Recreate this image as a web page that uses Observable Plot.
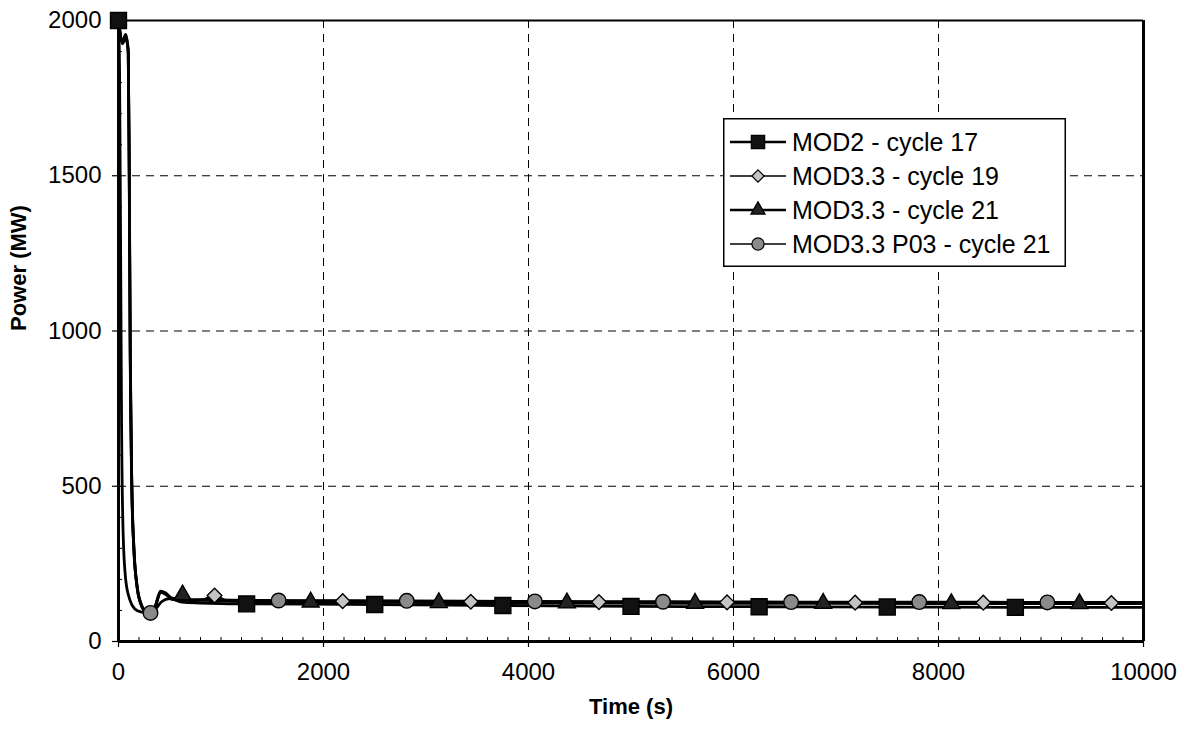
<!DOCTYPE html>
<html>
<head>
<meta charset="utf-8">
<script src="https://cdn.jsdelivr.net/npm/d3@7"></script>
<script src="https://cdn.jsdelivr.net/npm/@observablehq/plot@0.6"></script>
<style>
  html, body { margin: 0; padding: 0; background: white; }
  #wrap { position: relative; width: 1183px; height: 730px; }
  #legend { position: absolute; left: 723px; top: 118px; }
</style>
</head>
<body>
<div id="wrap"></div>
<script>
// ---- Data ----
const seriesNames = ["MOD2 - cycle 17", "MOD3.3 - cycle 19", "MOD3.3 - cycle 21", "MOD3.3 P03 - cycle 21"];

// MOD2 - cycle 17 (squares)
const mod2T = [0, 10, 20, 30, 45, 70, 110, 160, 220, 290, 350, 420, 500, 620, 800, 1000, 1250, 2500, 3750, 5000, 6250, 7500, 8750, 10000];
const mod2P = [2000, 1850, 1300, 700, 350, 200, 135, 105, 95, 92, 100, 128, 138, 127, 124, 122, 121, 119, 116, 113, 112, 111, 110, 110];
const mod2MarkT = [0, 1250, 2500, 3750, 5000, 6250, 7500, 8750];
const mod2MarkP = [2000, 121, 119, 116, 113, 112, 111, 110];

// MOD3.3 - cycle 19 (diamonds)
const c19T = [0, 40, 70, 95, 105, 115, 130, 150, 180, 220, 270, 310, 360, 410, 460, 520, 580, 640, 720, 820, 937, 1050, 1250, 2187, 3437, 4687, 5937, 7187, 8437, 9687, 10000];
const c19P = [2000, 1930, 1950, 1900, 1500, 900, 500, 300, 180, 120, 95, 92, 115, 160, 155, 138, 136, 146, 132, 134, 148, 132, 131, 130, 128, 127, 126, 125, 125, 124, 124];
const c19MarkT = [937, 2187, 3437, 4687, 5937, 7187, 8437, 9687];
const c19MarkP = [148, 130, 128, 127, 126, 125, 125, 124];

// MOD3.3 - cycle 21 (triangles)
const c21T = [0, 40, 70, 95, 105, 115, 130, 150, 180, 220, 270, 310, 360, 410, 460, 520, 570, 625, 690, 780, 900, 1050, 1250, 1875, 3125, 4375, 5625, 6875, 8125, 9375, 10000];
const c21P = [2000, 1925, 1945, 1895, 1480, 880, 490, 295, 178, 118, 94, 91, 112, 158, 152, 136, 137, 152, 131, 133, 132, 130, 129, 127, 125, 124, 123, 123, 122, 122, 122];
const c21MarkT = [625, 1875, 3125, 4375, 5625, 6875, 8125, 9375];
const c21MarkP = [150, 127, 125, 124, 123, 123, 122, 122];

// MOD3.3 P03 - cycle 21 (circles)
const p03T = [0, 40, 70, 95, 105, 115, 130, 150, 180, 220, 270, 312, 360, 410, 460, 520, 580, 660, 760, 900, 1100, 1562, 2812, 4062, 5312, 6562, 7812, 9062, 10000];
const p03P = [2000, 1935, 1955, 1905, 1520, 920, 510, 305, 182, 122, 96, 92, 116, 162, 156, 140, 137, 134, 135, 134, 133, 132, 131, 129, 128, 127, 127, 126, 126];
const p03MarkT = [312, 1562, 2812, 4062, 5312, 6562, 7812, 9062];
const p03MarkP = [92, 132, 131, 129, 128, 127, 127, 126];

// Axis ticks
const xTicks = [0, 2000, 4000, 6000, 8000, 10000];
const yTicks = [0, 500, 1000, 1500, 2000];
const xGridLines = [2000, 4000, 6000, 8000];
const yGridLines = [500, 1000, 1500];
const xMinorTicks = d3.range(0, 10001, 200);
const yMinorTicks = d3.range(0, 2001, 100);

// ---- Build tables ----
const toRows = (T, P) => T.map((t, i) => ({t, p: P[i]}));
const mod2Line = toRows(mod2T, mod2P), mod2Marks = toRows(mod2MarkT, mod2MarkP);
const c19Line = toRows(c19T, c19P), c19Marks = toRows(c19MarkT, c19MarkP);
const c21Line = toRows(c21T, c21P), c21Marks = toRows(c21MarkT, c21MarkP);
const p03Line = toRows(p03T, p03P), p03Marks = toRows(p03MarkT, p03MarkP);

const styles = [
  {symbol: "square", r: 9, fill: "#111", stroke: "#000"},
  {symbol: "diamond2", r: 6.6, fill: "#c4c4c4", stroke: "#000"},
  {symbol: "triangle", r: 6.3, fill: "#222", stroke: "#000"},
  {symbol: "circle", r: 7.3, fill: "#8a8a8a", stroke: "#000"}
];

const lineOpts = {x: "t", y: "p", stroke: "#000", strokeWidth: 2.8, curve: "monotone-x"};
const dotOpts = (s) => ({x: "t", y: "p", symbol: () => s.symbol, r: s.r, fill: s.fill, stroke: s.stroke, strokeWidth: 1.4});

const chart = Plot.plot({
  width: 1183,
  height: 730,
  marginLeft: 118,
  marginRight: 40,
  marginTop: 20,
  marginBottom: 89,
  style: {fontFamily: "'Liberation Sans', Arial, sans-serif", fontSize: "24px", background: "white", color: "#000"},
  x: {domain: [0, 10000], label: null},
  y: {domain: [0, 2000], label: null},
  symbol: {type: "identity"},
  marks: [
    Plot.gridX(xGridLines, {stroke: "#000", strokeOpacity: 1, strokeWidth: 1, strokeDasharray: "8,6"}),
    Plot.gridY(yGridLines, {stroke: "#000", strokeOpacity: 1, strokeWidth: 1, strokeDasharray: "8,6"}),
    Plot.axisX({ticks: xMinorTicks, tickSize: -4, tickFormat: () => "", strokeWidth: 1}),
    Plot.axisY({ticks: yMinorTicks, tickSize: -4, tickFormat: () => "", strokeWidth: 1}),
    Plot.axisX({ticks: xTicks, tickSize: 6, tickPadding: 15, tickFormat: d => String(d), fontSize: 24, strokeWidth: 1.2}),
    Plot.axisY({ticks: yTicks, tickSize: 6, tickPadding: 11, tickFormat: d => String(d), fontSize: 24, strokeWidth: 1.2}),
    Plot.ruleX([0], {stroke: "#000", strokeWidth: 3}),
    Plot.ruleY([0], {stroke: "#000", strokeWidth: 3}),
    Plot.ruleY([2000], {stroke: "#000", strokeWidth: 2}),
    Plot.ruleX([10000], {stroke: "#000", strokeWidth: 3}),
    Plot.line(mod2Line, lineOpts),
    Plot.line(c19Line, lineOpts),
    Plot.line(c21Line, lineOpts),
    Plot.line(p03Line, lineOpts),
    Plot.dot(mod2Marks, dotOpts(styles[0])),
    Plot.dot(c19Marks, dotOpts(styles[1])),
    Plot.dot(c21Marks, dotOpts(styles[2])),
    Plot.dot(p03Marks, dotOpts(styles[3])),
    Plot.text(["Time (s)"], {frameAnchor: "bottom", dy: 65, lineAnchor: "middle", fontWeight: "bold", fontSize: 22}),
    Plot.text(["Power (MW)"], {frameAnchor: "left", dx: -100, rotate: -90, lineAnchor: "middle", fontWeight: "bold", fontSize: 22})
  ]
});
document.getElementById("wrap").appendChild(chart);

// ---- Legend (overlay inside the plot area) ----
const lw = 343, lh = 149;
const leg = d3.create("svg").attr("id", "legend").attr("width", lw).attr("height", lh)
  .style("font-family", "'Liberation Sans', Arial, sans-serif");
leg.append("rect").attr("x", 0.75).attr("y", 0.75).attr("width", lw - 1.5).attr("height", lh - 1.5)
  .attr("fill", "white").attr("stroke", "#000").attr("stroke-width", 1.5);
const symMap = {square: d3.symbolSquare, diamond2: d3.symbolDiamond2, triangle: d3.symbolTriangle, circle: d3.symbolCircle};
seriesNames.forEach((name, i) => {
  const cy = 24 + i * 34;
  const g = leg.append("g");
  g.append("line").attr("x1", 7).attr("x2", 63).attr("y1", cy).attr("y2", cy)
    .attr("stroke", "#000").attr("stroke-width", i === 0 || i === 2 ? 2.6 : 1.6);
  const s = styles[i];
  g.append("path").attr("transform", `translate(35,${cy})`)
    .attr("d", d3.symbol(symMap[s.symbol], Math.PI * s.r * s.r * 0.7)())
    .attr("fill", s.fill).attr("stroke", s.stroke).attr("stroke-width", 1.2);
  g.append("text").attr("x", 69).attr("y", cy).attr("dy", "0.35em")
    .attr("font-size", 25).text(name);
});
document.getElementById("wrap").appendChild(leg.node());
</script>
</body>
</html>
